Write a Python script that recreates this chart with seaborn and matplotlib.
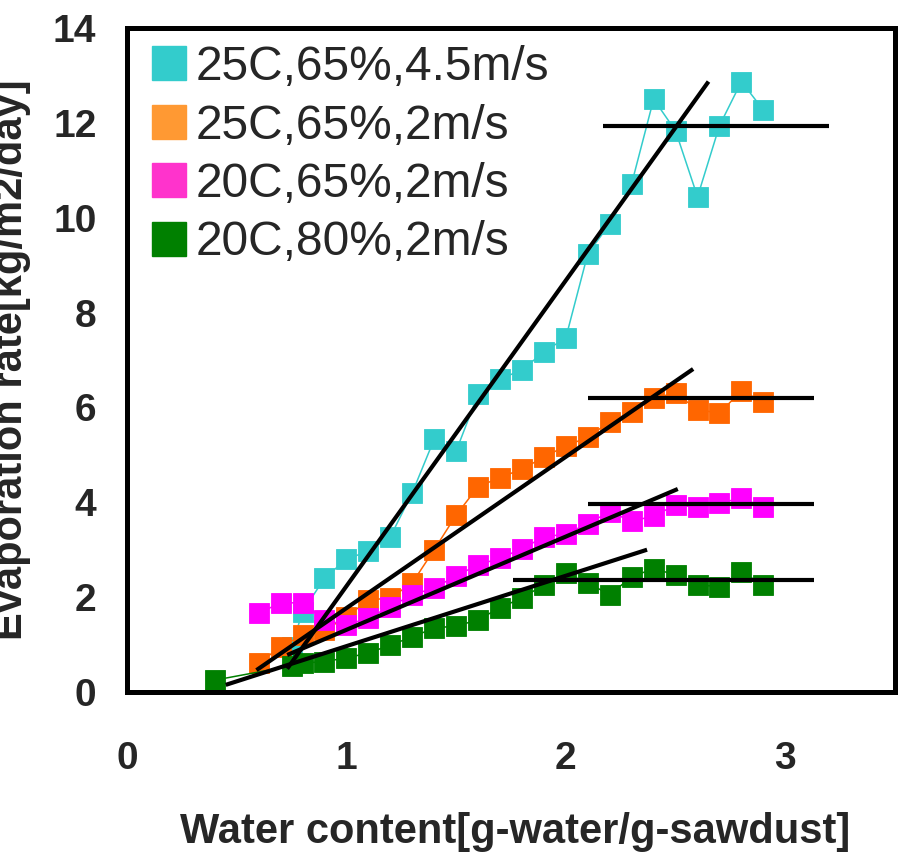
import matplotlib
matplotlib.use("Agg")
import matplotlib.pyplot as plt
from matplotlib.lines import Line2D
import seaborn as sns
import pandas as pd

# ---------------- data ----------------
labels = ["25C,65%,4.5m/s", "25C,65%,2m/s", "20C,65%,2m/s", "20C,80%,2m/s"]

cyan_x = [0.75, 0.8, 0.9, 1.0, 1.1, 1.2, 1.3, 1.4, 1.5, 1.6, 1.7, 1.8, 1.9,
          2.0, 2.1, 2.2, 2.3, 2.4, 2.5, 2.6, 2.7, 2.8, 2.9]
cyan_y = [0.95, 1.69, 2.40, 2.80, 2.97, 3.27, 4.20, 5.33, 5.08, 6.28, 6.60,
          6.79, 7.17, 7.47, 9.24, 9.87, 10.72, 12.50, 11.83, 10.44, 11.94,
          12.87, 12.27]

orange_x = [0.6, 0.7, 0.8, 0.9, 1.0, 1.1, 1.2, 1.3, 1.4, 1.5, 1.6, 1.7, 1.8,
            1.9, 2.0, 2.1, 2.2, 2.3, 2.4, 2.5, 2.6, 2.7, 2.8, 2.9]
orange_y = [0.61, 0.95, 1.20, 1.30, 1.58, 1.94, 1.98, 2.30, 3.00, 3.73, 4.33,
            4.52, 4.70, 4.95, 5.19, 5.37, 5.70, 5.90, 6.20, 6.30, 5.95, 5.88,
            6.35, 6.12]

magenta_x = [0.6, 0.7, 0.8, 0.9, 1.0, 1.1, 1.2, 1.3, 1.4, 1.5, 1.6, 1.7, 1.8,
             1.9, 2.0, 2.1, 2.2, 2.3, 2.4, 2.5, 2.6, 2.7, 2.8, 2.9]
magenta_y = [1.66, 1.88, 1.88, 1.52, 1.41, 1.56, 1.80, 2.05, 2.19, 2.45, 2.68,
             2.82, 3.02, 3.27, 3.33, 3.55, 3.80, 3.60, 3.71, 3.94, 3.90, 3.98,
             4.09, 3.90]

green_x = [0.4, 0.75, 0.8, 0.9, 1.0, 1.1, 1.2, 1.3, 1.4, 1.5, 1.6, 1.7, 1.8,
           1.9, 2.0, 2.1, 2.2, 2.3, 2.4, 2.5, 2.6, 2.7, 2.8, 2.9]
green_y = [0.25, 0.55, 0.61, 0.64, 0.72, 0.82, 0.99, 1.16, 1.35, 1.39, 1.52,
           1.78, 1.98, 2.26, 2.50, 2.30, 2.05, 2.43, 2.60, 2.47, 2.26, 2.22,
           2.53, 2.26]

# fitted (falling-rate) lines: start/end x and y
fit_x = [[0.73, 2.65], [0.59, 2.58], [0.73, 2.51], [0.45, 2.37]]
fit_y = [[0.49, 12.87], [0.46, 6.81], [0.78, 4.28], [0.15, 3.00]]
# constant-rate lines: level and x extent
const_level = [11.94, 6.20, 3.96, 2.36]
const_x = [[2.17, 3.20], [2.10, 3.13], [2.10, 3.13], [1.76, 3.13]]

xticks = [0, 1, 2, 3]
yticks = [0, 2, 4, 6, 8, 10, 12, 14]

plot_colors = ["#33CCCC", "#FF6600", "#FF00FF", "#008000"]
legend_colors = ["#33CCCC", "#FF9933", "#FF33CC", "#008000"]

# ---------------- figure ----------------
sns.set_theme(style="white")
plt.rcParams["font.family"] = ["Liberation Sans", "DejaVu Sans"]

fig = plt.figure(figsize=(8.98, 8.61), dpi=100)
ax = fig.add_axes([0.1414, 0.1963, 0.9967 - 0.1414, 0.9675 - 0.1963])

series = [(cyan_x, cyan_y), (orange_x, orange_y), (magenta_x, magenta_y),
          (green_x, green_y)]
for (xs, ys), lab, col in zip(series, labels, plot_colors):
    df = pd.DataFrame({"x": xs, "y": ys})
    sns.lineplot(data=df, x="x", y="y", ax=ax, color=col, sort=False,
                 linewidth=1.1, marker="s", markersize=14.5,
                 markeredgecolor=col, markeredgewidth=0.6, zorder=2)

for fx, fy in zip(fit_x, fit_y):
    ax.plot(fx, fy, color="black", linewidth=3.0, solid_capstyle="butt",
            zorder=3)
for lvl, cx in zip(const_level, const_x):
    ax.plot(cx, [lvl, lvl], color="black", linewidth=3.0,
            solid_capstyle="butt", zorder=3)

ax.set_xlim(0, 3.5)
ax.set_ylim(0, 14)
ax.set_xticks(xticks)
ax.set_yticks(yticks)
ax.set_xticklabels([str(t) for t in xticks], fontsize=28, fontweight="bold")
ax.set_yticklabels([str(t) for t in yticks], fontsize=28, fontweight="bold")
ax.tick_params(axis="x", direction="in", length=7, width=1, color="#555555",
               pad=35)
ax.tick_params(axis="y", direction="in", length=7, width=1, color="#555555",
               pad=22)
for sp in ax.spines.values():
    sp.set_visible(True)
    sp.set_color("black")
    sp.set_linewidth(3.6)

ax.set_xlabel("Water content[g-water/g-sawdust]", fontsize=30,
              fontweight="bold", va="baseline")
ax.xaxis.set_label_coords(0.505, -0.227)
ax.set_ylabel("Evaporation rate[kg/m2/day]", fontsize=30, fontweight="bold",
              va="baseline")
ax.yaxis.set_label_coords(-0.1367, 0.5)

handles = [Line2D([], [], linestyle="none", marker="s", markersize=25,
                  markerfacecolor=c, markeredgecolor=c) for c in legend_colors]
leg = ax.legend(handles, labels, loc="upper left",
                bbox_to_anchor=(0.03, 0.974), frameon=False, fontsize=34.5,
                handlelength=0.8, handletextpad=0.15, labelspacing=0.28,
                borderpad=0, borderaxespad=0)

fig.savefig("out.png", dpi=100)
